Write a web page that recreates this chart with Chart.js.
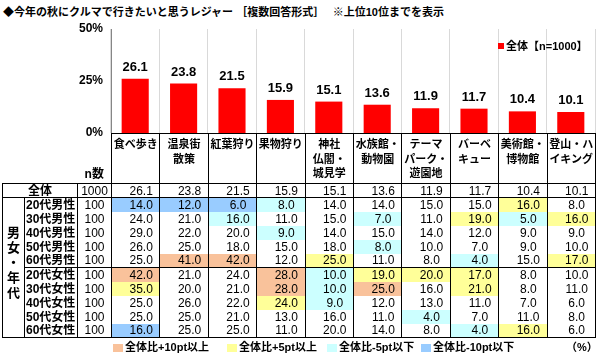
<!DOCTYPE html>
<html lang="ja">
  <head>
    <meta charset="UTF-8" />
    <script src="https://cdn.jsdelivr.net/npm/chart.js@4.4.0/dist/chart.umd.min.js"></script>
    <title>今年の秋にクルマで行きたいと思うレジャー</title>
    <style>
      body {
        margin: 0;
        width: 600px;
        height: 354px;
        position: relative;
        overflow: hidden;
        background: #fff;
        font-family: "Liberation Sans", "Noto Sans CJK JP", sans-serif;
        color: #000;
      }
      .title {
        position: absolute;
        left: 3px;
        top: 6px;
        font-size: 11px;
        line-height: 13px;
        font-weight: bold;
        white-space: nowrap;
      }
      #wrap {
        position: absolute;
        left: 0;
        top: 0;
        width: 600px;
        height: 160px;
      }
      .lg {
        position: absolute;
        font-size: 11px;
        line-height: 12px;
        font-weight: bold;
        white-space: nowrap;
      }
      .sq {
        display: inline-block;
        vertical-align: -1px;
        margin-right: 2px;
      }
      #tbl {
        position: absolute;
        left: 2px;
        top: 133px;
        border-collapse: collapse;
        table-layout: fixed;
      }
      #tbl td {
        padding: 0;
        font-size: 12px;
        line-height: 12px;
        white-space: nowrap;
        overflow: hidden;
      }
      #tbl tr.r { height: 14px; }
      .b { border: 1px solid #000; }
      .lr { border-left: 1px solid #000; border-right: 1px solid #000; }
      .bt { border-top: 1px solid #000 !important; }
      .bb { border-bottom: 1px solid #000 !important; }
      .hd {
        font-weight: bold;
        font-size: 11px !important;
        line-height: 14.5px !important;
        text-align: center;
        vertical-align: top;
        padding-top: 3px !important;
        border: 1px solid #000;
      }
      .lab { font-weight: bold; padding-left: 1px !important; }
      .num { text-align: center; padding-left: 11px !important; }
      .nn { text-align: center; }
    </style>
  </head>
  <body>
    <div class="title">◆今年の秋にクルマで行きたいと思うレジャー ［複数回答形式］　 ※上位10位までを表示</div>
    <div id="wrap"><canvas id="myChart"></canvas></div>
    <div class="lg" style="left:498px; top:40px"><span class="sq" style="width:6px;height:6px;background:#ff0000;vertical-align:1px"></span>全体【n=1000】</div>
    <table id="tbl"></table>
    <div id="legend"></div>
    <script>
      // categories (header lines) and values
      const categories = [
        ["食べ歩き"], ["温泉街", "散策"], ["紅葉狩り"], ["果物狩り"],
        ["神社", "仏閣・", "城見学"], ["水族館・", "動物園"], ["テーマ", "パーク・", "遊園地"],
        ["バーベ", "キュー"], ["美術館・", "博物館"], ["登山・ハ", "イキング"]
      ];
      const overall = [26.1, 23.8, 21.5, 15.9, 15.1, 13.6, 11.9, 11.7, 10.4, 10.1];
      const overallN = 1000;
      const yTicks = [0, 25, 50];

      const segments = ["20代男性", "30代男性", "40代男性", "50代男性", "60代男性",
                        "20代女性", "30代女性", "40代女性", "50代女性", "60代女性"];
      const segN = [100, 100, 100, 100, 100, 100, 100, 100, 100, 100];
      const m20 = [14, 12, 6, 8, 14, 14, 15, 15, 16, 8];
      const m30 = [24, 21, 16, 11, 15, 7, 11, 19, 5, 16];
      const m40 = [29, 22, 20, 9, 14, 15, 14, 12, 9, 9];
      const m50 = [26, 25, 18, 15, 18, 8, 10, 7, 9, 10];
      const m60 = [25, 41, 42, 12, 25, 11, 8, 4, 15, 17];
      const f20 = [42, 21, 24, 28, 10, 19, 20, 17, 8, 10];
      const f30 = [35, 20, 21, 28, 10, 25, 16, 21, 8, 11];
      const f40 = [25, 26, 22, 24, 9, 12, 13, 11, 7, 6];
      const f50 = [25, 25, 21, 13, 16, 11, 4, 7, 11, 8];
      const f60 = [16, 25, 25, 11, 20, 14, 8, 4, 16, 6];
      const segValues = [m20, m30, m40, m50, m60, f20, f30, f40, f50, f60];

      const legendLabels = ["全体比+10pt以上", "全体比+5pt以上", "全体比-5pt以下", "全体比-10pt以下"];
      const legendColors = ["#f9c29b", "#ffff99", "#ccffff", "#99ccff"];

      function cellColor(v, base) {
        const d = v - base;
        if (d >= 10) return legendColors[0];
        if (d >= 5) return legendColors[1];
        if (d <= -10) return legendColors[3];
        if (d <= -5) return legendColors[2];
        return "";
      }

      const valueLabels = {
        id: "valueLabels",
        afterDatasetsDraw(chart) {
          const ctx = chart.ctx;
          const meta = chart.getDatasetMeta(0);
          ctx.save();
          ctx.font = 'bold 13px "Liberation Sans", sans-serif';
          ctx.fillStyle = "#000";
          ctx.textAlign = "center";
          ctx.textBaseline = "bottom";
          meta.data.forEach((bar, i) => {
            ctx.fillText(overall[i].toFixed(1), bar.x, bar.y - 5);
          });
          ctx.restore();
        }
      };

      const chart = new Chart(document.getElementById("myChart"), {
        type: "bar",
        data: {
          labels: categories.map((c) => c.join("")),
          datasets: [
            {
              label: "全体【n=1000】",
              data: overall,
              backgroundColor: "#ff0000",
              barPercentage: 0.56,
              categoryPercentage: 1
            }
          ]
        },
        options: {
          responsive: true,
          maintainAspectRatio: false,
          animation: false,
          events: [],
          layout: { padding: { top: 29, bottom: 27, left: 0, right: 5 } },
          plugins: { legend: { display: false }, tooltip: { enabled: false } },
          scales: {
            x: {
              ticks: { display: false },
              grid: { offset: true, color: "#d9d9d9", drawTicks: false },
              border: { display: true, color: "#000" },
              afterFit: (s) => { s.height = 0; }
            },
            y: {
              min: 0,
              max: 50,
              afterBuildTicks: (s) => { s.ticks = yTicks.map((v) => ({ value: v })); },
              ticks: {
                padding: 8,
                color: "#000",
                font: { family: "Liberation Sans", size: 12, weight: "bold" },
                callback: (v) => v + "%"
              },
              grid: { display: false, drawTicks: false },
              border: { display: true, color: "#868686" },
              afterFit: (s) => { s.width = 111; }
            }
          }
        },
        plugins: [valueLabels]
      });

      // nudge the plot area so 50% sits at y=29 and 0% at y=133
      const pad = chart.options.layout.padding;
      pad.top += 29 - chart.chartArea.top;
      pad.bottom -= 133 - chart.chartArea.bottom;
      pad.right += chart.chartArea.right - 595;
      chart.update();

      // table under the bars, columns taken from the chart's x scale
      function buildTable() {
        const area = chart.chartArea;
        const colW = (area.right - area.left) / categories.length;
        let h = "<colgroup><col style='width:22px'><col style='width:53px'>";
        h += "<col style='width:" + (area.left - 77) + "px'>";
        categories.forEach(() => { h += "<col style='width:" + colW + "px'>"; });
        h += "</colgroup>";

        h += "<tr style='height:50px'><td colspan='2'></td>";
        h += "<td class='nn' style='vertical-align:bottom;font-weight:bold;border-right:1px solid #000;padding-bottom:3px'>n数</td>";
        categories.forEach((c) => { h += "<td class='hd'>" + c.join("<br>") + "</td>"; });
        h += "</tr>";

        h += "<tr class='r'><td colspan='2' class='b' style='text-align:center;font-weight:bold'>全体</td>";
        h += "<td class='b nn'>" + overallN + "</td>";
        overall.forEach((v) => { h += "<td class='b num'>" + v.toFixed(1) + "</td>"; });
        h += "</tr>";

        segments.forEach((seg, r) => {
          const extra = (r === 5 ? " bt" : "") + (r === segments.length - 1 ? " bb" : "");
          h += "<tr class='r'>";
          if (r === 0) {
            h += "<td rowspan='10' class='b' style='text-align:center;vertical-align:middle;font-weight:bold;font-size:13px;line-height:15px;padding-bottom:10px'>男<br>女<br>・<br>年<br>代</td>";
          }
          h += "<td class='lr lab" + extra + "'>" + seg + "</td>";
          h += "<td class='lr nn" + extra + "'>" + segN[r] + "</td>";
          segValues[r].forEach((v, i) => {
            const bg = cellColor(v, overall[i]);
            h += "<td class='lr num" + extra + "'" + (bg ? " style='background:" + bg + "'" : "") + ">" + v.toFixed(1) + "</td>";
          });
          h += "</tr>";
        });
        const tbl = document.getElementById("tbl");
        tbl.innerHTML = h;
        tbl.style.top = Math.round(area.bottom) + "px";

        const lefts = [113, 227, 327, 421];
        let lg = "";
        legendLabels.forEach((t, i) => {
          lg += "<div class='lg' style='left:" + lefts[i] + "px;top:341px'><span class='sq' style='width:10px;height:8px;background:" + legendColors[i] + "'></span>" + t + "</div>";
        });
        lg += "<div class='lg' style='left:566px;top:341px'>（%）</div>";
        document.getElementById("legend").innerHTML = lg;
      }
      buildTable();
    </script>
  </body>
</html>
